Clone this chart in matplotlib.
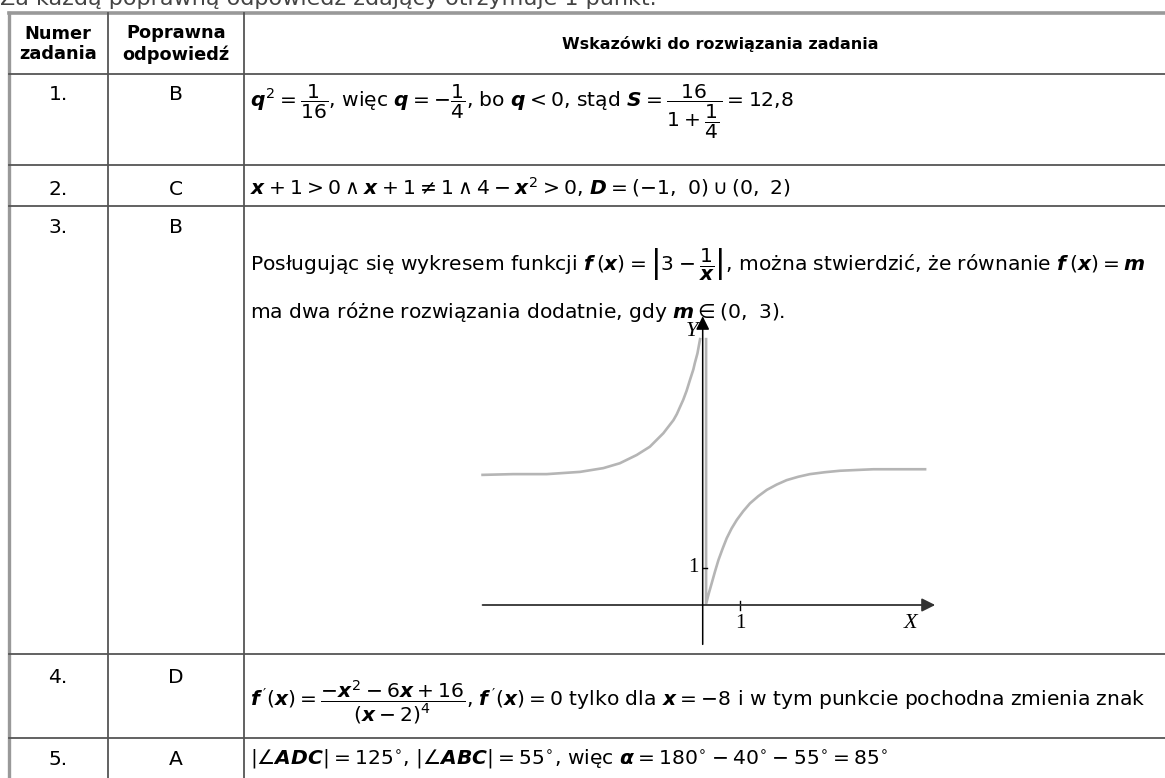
import matplotlib
matplotlib.use("Agg")
import matplotlib.pyplot as plt

plt.rcParams['font.family'] = ['DejaVu Sans']
plt.rcParams['mathtext.fontset'] = 'custom'
plt.rcParams['mathtext.rm'] = 'DejaVu Sans'
plt.rcParams['mathtext.it'] = 'DejaVu Sans:italic:bold'
plt.rcParams['mathtext.bf'] = 'DejaVu Sans:bold'
plt.rcParams['mathtext.sf'] = 'DejaVu Sans'

# table content
intro = "Za każdą poprawną odpowiedź zdający otrzymuje 1 punkt."
headers = ["Numer\nzadania", "Poprawna\nodpowiedź", "Wskazówki do rozwiązania zadania"]
numbers = ["1.", "2.", "3.", "4.", "5."]
answers = ["B", "C", "B", "D", "A"]
hints = [
    [r"$q^2=\dfrac{1}{16}$, więc $q=-\dfrac{1}{4}$, bo $q<0$, stąd $S=\dfrac{16}{1+\dfrac{1}{4}}=$12,8"],
    [r"$x+1>0\wedge x+1\neq 1\wedge 4-x^2>0$, $D=(-1,\ 0)\cup(0,\ 2)$"],
    [r"Posługując się wykresem funkcji $f\,(x)=\left|3-\dfrac{1}{x}\right|$, można stwierdzić, że równanie $f\,(x)=m$",
     r"ma dwa różne rozwiązania dodatnie, gdy $m\in(0,\ 3)$."],
    [r"$f\,'(x)=\dfrac{-x^2-6x+16}{(x-2)^4}$, $f\,'(x)=0$ tylko dla $x=-8$ i w tym punkcie pochodna zmienia znak"],
    [r"$|\angle ADC|=125^{\circ}$, $|\angle ABC|=55^{\circ}$, więc $\alpha=180^{\circ}-40^{\circ}-55^{\circ}=85^{\circ}$"],
]

# graph of f(x) = |3 - 1/x|
left_x = [-5.87, -5.05, -4.16, -3.27, -2.65, -2.21, -1.76, -1.41, -1.05, -0.78, -0.69, -0.61,
          -0.52, -0.43, -0.34, -0.25, -0.21, -0.14, -0.07]
left_y = [3.47, 3.49, 3.49, 3.55, 3.65, 3.78, 4.00, 4.22, 4.58, 4.93, 5.09, 5.27,
          5.47, 5.71, 6.00, 6.28, 6.45, 6.71, 7.09]
right_x = [0.09, 0.09, 0.16, 0.24, 0.33, 0.42, 0.53, 0.64, 0.77, 0.91, 1.08, 1.26, 1.48, 1.71,
           1.97, 2.24, 2.55, 2.86, 3.25, 3.66, 4.10, 4.55, 5.25, 5.93]
right_y = [7.09, 0.03, 0.30, 0.58, 0.90, 1.20, 1.50, 1.78, 2.04, 2.27, 2.50, 2.71, 2.90, 3.07,
           3.21, 3.33, 3.42, 3.49, 3.54, 3.58, 3.60, 3.62, 3.62, 3.62]

W, H = 1165, 778
fig = plt.figure(figsize=(W / 100, H / 100), dpi=100)
ax = fig.add_axes([0, 0, 1, 1])
ax.set_xlim(0, W)
ax.set_ylim(H, 0)
ax.axis('off')

col_x = [9, 108, 244]
row_y = [13, 74, 165, 206, 654, 738]
line_c = '#555555'

ax.text(0, 5, intro, fontsize=16, color='#444444', va='baseline', ha='left')

# frame
ax.plot([9, W], [13, 13], color='#999999', lw=2.6)
ax.plot([9, 9], [13, H], color='#999999', lw=2.4)
for y in row_y[1:]:
    ax.plot([9, W], [y, y], color=line_c, lw=1.3)
for x in col_x[1:]:
    ax.plot([x, x], [13, H], color=line_c, lw=1.3)

ax.text(58, 44, headers[0], fontsize=12.8, fontweight='bold', ha='center', va='center', linespacing=1.2)
ax.text(176, 44, headers[1], fontsize=12.8, fontweight='bold', ha='center', va='center', linespacing=1.2)
ax.text(720, 44, headers[2], fontsize=11.5, fontweight='bold', ha='center', va='center')

num_base = [100, 195, 233, 683, 765]
hint_base = [[107], [194], [271, 318], [706], [763]]
fs = 14.6
for i in range(len(numbers)):
    ax.text(58, num_base[i], numbers[i], fontsize=fs, ha='center', va='baseline')
    ax.text(176, num_base[i], answers[i], fontsize=fs, ha='center', va='baseline')
    for j, line in enumerate(hints[i]):
        ax.text(250, hint_base[i][j], line, fontsize=fs, ha='left', va='baseline')

# inset graph, 37.5 px per unit, origin at pixel (702.7, 605)
px = 37.5
gx0, gx1, gy0, gy1 = 470, 950, 310, 650
g = fig.add_axes([gx0 / W, (H - gy1) / H, (gx1 - gx0) / W, (gy1 - gy0) / H])
g.set_xlim((gx0 - 702.7) / px, (gx1 - 702.7) / px)
g.set_ylim((605 - gy1) / px, (605 - gy0) / px)
g.axis('off')
g.patch.set_alpha(0)

g.plot(left_x, left_y, color='#b5b5b5', lw=1.9, solid_joinstyle='round')
g.plot(right_x, right_y, color='#b5b5b5', lw=1.9, solid_joinstyle='round')

g.annotate('', xy=(6.2, 0), xytext=(-5.87, 0),
           arrowprops=dict(arrowstyle='-|>', color='#333333', lw=1.3, mutation_scale=20, shrinkA=0, shrinkB=0))
g.annotate('', xy=(0, 7.7), xytext=(0, -1.05),
           arrowprops=dict(arrowstyle='-|>', color='black', lw=1.1, mutation_scale=20, shrinkA=0, shrinkB=0))
g.plot([1, 1], [-0.12, 0.12], color='black', lw=1)
g.plot([0, 0.12], [1, 1], color='black', lw=1)

serif = ['Liberation Serif', 'DejaVu Serif']
g.text(1, -0.25, '1', family=serif, fontsize=15, ha='center', va='top')
g.text(-0.12, 1, '1', family=serif, fontsize=15, ha='right', va='center')
g.text(5.55, -0.25, 'X', family=serif, style='italic', fontsize=16, ha='center', va='top')
g.text(-0.12, 7.3, 'Y', family=serif, style='italic', fontsize=16, ha='right', va='center')

fig.savefig('out.png', dpi=100)
